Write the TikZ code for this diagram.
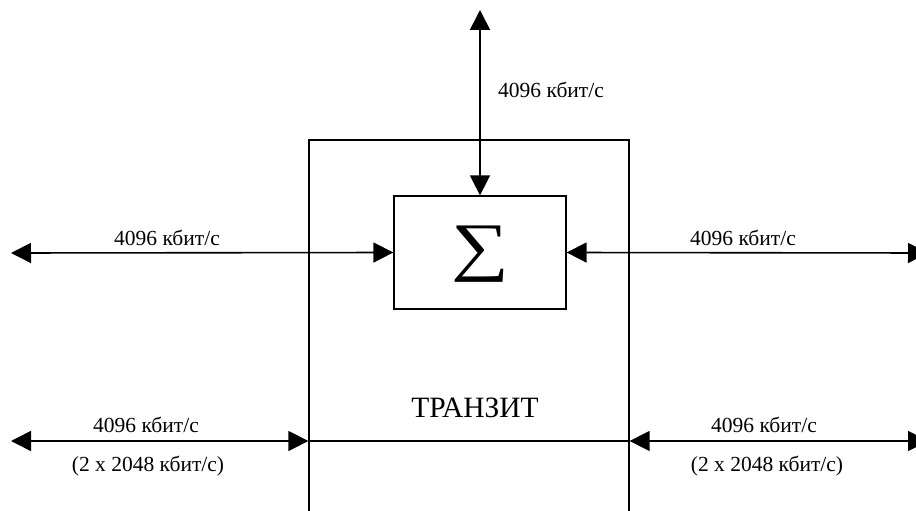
\documentclass[tikz,border=0pt]{standalone}
\usepackage{fontspec}
\setmainfont{Liberation Serif}
\usetikzlibrary{arrows.meta}
\begin{document}
\begin{tikzpicture}[x={(1pt,0pt)},y={(0pt,-1pt)},
  conn/.style={line width=1.6pt,{Triangle[length=20pt,width=20pt]}-{Triangle[length=20pt,width=20pt]}},
  plainline/.style={line width=1.6pt},
  box/.style={draw,line width=1.3pt,rectangle,inner sep=0pt},
  lbl/.style={font=\fontsize{21.5}{24}\selectfont,inner sep=0pt},
  title/.style={font=\fontsize{29.5}{32}\selectfont,inner sep=0pt},
  sigmafont/.style={font=\fontsize{65}{70}\selectfont,inner sep=0pt}]
\useasboundingbox (0,0) rectangle (916,511);
\fill[white] (0,0) rectangle (916,511);
\clip (0,0) rectangle (916,511);
\node[box,minimum width=320pt,minimum height=400pt] (transit) at (469,340) {};
\node[box,fill=white,minimum width=172pt,minimum height=113pt] (sum) at (480,252.5) {};
\node[sigmafont] (sigma) at (480,254.5) {\scalebox{1.25}[1]{∑}};
\coordinate (top) at (480,10);
\coordinate (l1) at (11,253);
\coordinate (r1) at (928,253);
\coordinate (l2) at (11,441);
\coordinate (r2) at (928,441);
\draw[conn] (top) -- (sum.north);
\draw[conn] (l1) -- (sum.west);
\draw[conn] (sum.east) -- (r1);
\draw[conn] (l2) -- (l2 -| transit.west);
\draw[plainline] (l2 -| transit.west) -- (l2 -| transit.east);
\draw[conn] (l2 -| transit.east) -- (r2);
\node[lbl,anchor=base west] (labtop) at (498,97) {4096 кбит/с};
\node[lbl,anchor=base] (labl1) at (167,245) {4096 кбит/с};
\node[lbl,anchor=base] (labr1) at (743,245) {4096 кбит/с};
\node[lbl,anchor=base] (labl2) at (146,432) {4096 кбит/с};
\node[lbl,anchor=base] (labl2b) at (148,471) {(2 x 2048 кбит/с)};
\node[lbl,anchor=base] (labr2) at (764,432) {4096 кбит/с};
\node[lbl,anchor=base] (labr2b) at (767,471) {(2 x 2048 кбит/с)};
\node[title,anchor=base] (tr) at (475,417) {ТРАНЗИТ};
\end{tikzpicture}
\end{document}
